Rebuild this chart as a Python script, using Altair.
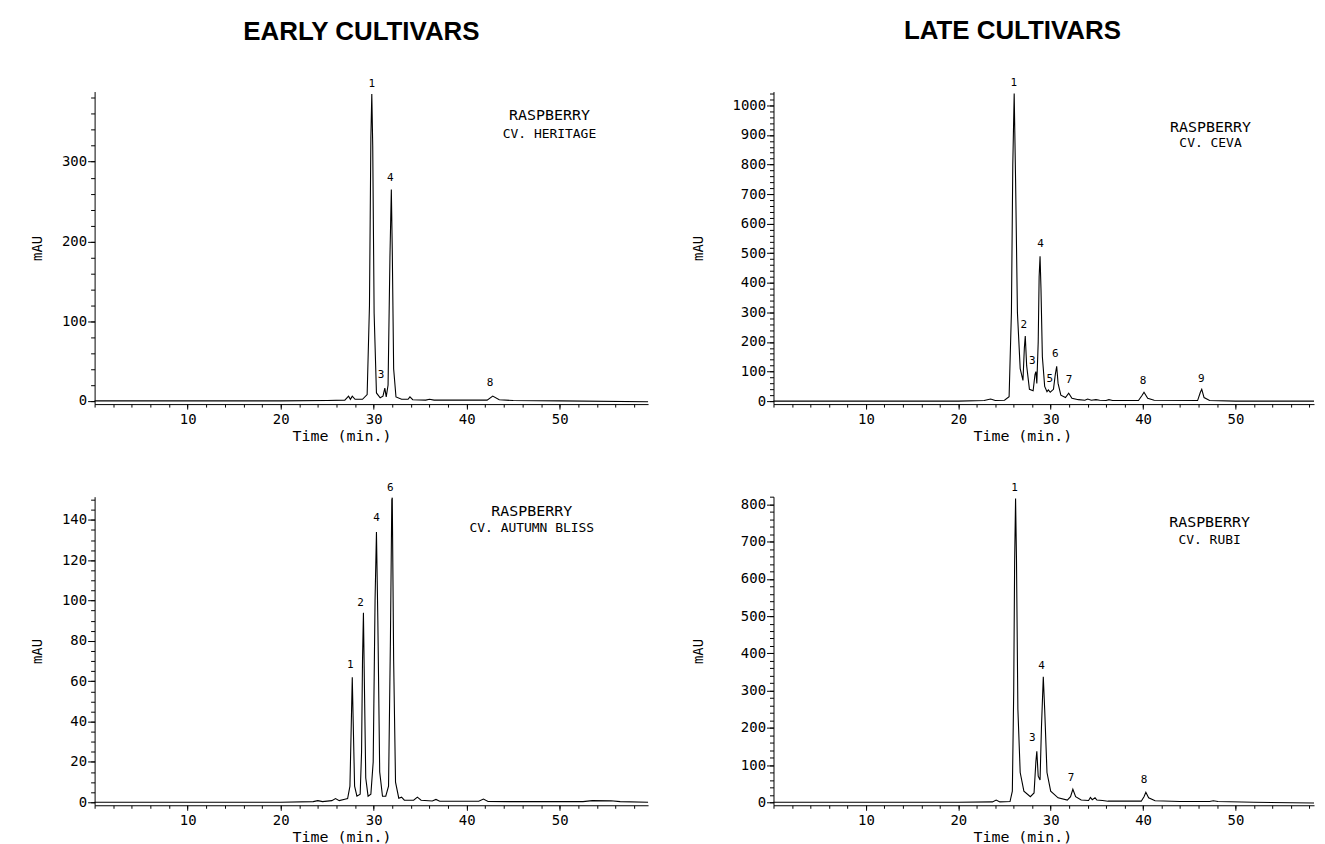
import altair as alt
import pandas as pd

MONO = "DejaVu Sans Mono"

# ---------------- EARLY: cv. Heritage ----------------
her_t = [0, 10, 20, 25, 26.9, 27.3, 27.5, 27.7, 28.0, 28.8, 29.3, 29.55, 29.7, 29.8, 29.9, 30.05, 30.3, 30.7,
         31.0, 31.2, 31.35, 31.55, 31.75, 31.9, 32.0, 32.15, 32.4, 33.0, 33.7, 33.9, 34.2, 35.6, 36.0, 36.5,
         42.2, 42.8, 43.5, 45, 50, 59.5]
her_v = [0, 0, 0, 0.5, 1, 6, 2, 6, 2, 2, 8, 120, 330, 385, 320, 110, 10, 4,
         6, 16, 5, 20, 180, 265, 190, 40, 5, 2, 2, 5, 1.5, 1, 2, 1,
         1, 6, 1.5, 0.5, 0, -1]
her_lab = ["1", "3", "4", "8"]
her_lab_t = [29.8, 30.8, 31.8, 42.5]
her_lab_v = [398, 33, 279, 22]

# ---------------- EARLY: cv. Autumn Bliss ----------------
bli_t = [0, 10, 20, 23.5, 24.0, 24.5, 25.5, 25.9, 26.3, 26.9, 27.2, 27.45, 27.6, 27.7, 27.8, 27.95, 28.2,
         28.55, 28.7, 28.8, 28.9, 29.0, 29.15, 29.4, 29.7, 29.95, 30.15, 30.3, 30.45, 30.65, 30.95, 31.3,
         31.6, 31.8, 31.95, 32.0, 32.15, 32.35, 32.7, 33.0, 33.3, 34.3, 34.7, 35.1, 36.3, 36.7, 37.1,
         41.3, 41.8, 42.3, 45, 52.5, 53.5, 55.5, 56.5, 59.5]
bli_v = [0, 0, 0, 0.3, 0.8, 0.3, 0.8, 1.8, 0.8, 1.5, 1.8, 8, 40, 62, 40, 8, 3,
         4, 25, 70, 94, 60, 12, 3, 4, 20, 100, 134, 90, 15, 3, 3,
         8, 80, 150, 151, 70, 10, 2, 2.5, 1, 1, 2.5, 1, 0.6, 1.4, 0.5,
         0.5, 1.6, 0.4, 0.3, 0.3, 0.8, 0.7, 0.3, 0]
bli_lab = ["1", "2", "4", "6"]
bli_lab_t = [27.5, 28.6, 30.3, 31.8]
bli_lab_v = [68, 99, 141, 156]

# ---------------- LATE: cv. Ceva ----------------
cev_t = [0, 10, 20, 22.8, 23.5, 24.0, 25.0, 25.5, 25.75, 25.9, 26.05, 26.2, 26.4, 26.7, 27.0, 27.15, 27.25,
         27.4, 27.7, 28.1, 28.3, 28.4, 28.5, 28.65, 28.75, 28.85, 28.95, 29.1, 29.35, 29.6, 29.75, 29.95,
         30.3, 30.5, 30.65, 30.8, 31.1, 31.6, 31.95, 32.3, 33.0, 33.7, 34.0, 34.4, 34.9, 35.3, 36.0, 36.3,
         36.7, 39.5, 39.9, 40.1, 40.5, 41.2, 45.9, 46.2, 46.35, 46.6, 47.2, 50, 58.5]
cev_v = [0, 0, 0, 2, 7, 2, 3, 15, 300, 800, 1040, 750, 300, 110, 70, 180, 220,
         120, 40, 35, 90, 100, 60, 200, 420, 490, 380, 150, 50, 32, 38, 30,
         40, 90, 118, 60, 20, 12, 27, 10, 5, 3, 7, 3, 5, 3, 2, 5,
         2, 2, 20, 30, 10, 3, 2, 30, 40, 12, 2, 0, 0]
cev_lab = ["1", "2", "3", "4", "5", "6", "7", "8", "9"]
cev_lab_t = [26.0, 27.1, 28.0, 28.9, 29.9, 30.5, 32.0, 40.0, 46.3]
cev_lab_v = [1075, 259, 137, 530, 75, 161, 70, 67, 75]

# ---------------- LATE: cv. Rubi ----------------
rub_t = [0, 10, 20, 23.7, 24.1, 24.5, 25.6, 25.85, 26.0, 26.1, 26.2, 26.3, 26.45, 26.7, 27.1, 27.8, 28.2,
         28.4, 28.5, 28.65, 28.85, 29.0, 29.2, 29.35, 29.6, 30.0, 30.8, 31.8, 32.15, 32.4, 32.7, 33.3,
         34.1, 34.3, 34.5, 34.8, 35.0, 35.6, 36.2, 39.8, 40.1, 40.3, 40.6, 41.3, 44, 47.2, 47.6, 48.1,
         52, 58.5]
rub_v = [0, 0, 0, 1, 6, 1, 2, 30, 300, 650, 816, 650, 250, 80, 30, 15, 25,
         110, 137, 70, 60, 200, 337, 250, 80, 30, 12, 6, 15, 35, 15, 6,
         5, 13, 7, 12, 6, 5, 3, 3, 15, 27, 12, 4, 2, 2, 4, 2,
         0, -2]
rub_lab = ["1", "3", "4", "7", "8"]
rub_lab_t = [26.1, 28.0, 29.0, 32.2, 40.1]
rub_lab_v = [843, 173, 365, 64, 60]

# sample annotations (text, time position, signal position of line 1, of line 2)
note_top = "RASPBERRY"
her_note = ["CV. HERITAGE", 48.9, 359, 335]
bli_note = ["CV. AUTUMN BLISS", 47.0, 144.5, 136]
cev_note = ["CV. CEVA", 47.3, 926, 872]
rub_note = ["CV. RUBI", 47.2, 752, 704]

X_MAJOR = [10, 20, 30, 40, 50]


def panel(t, v, xmax, ydom, major_y, minor_step, w, h, lab, lab_t, lab_v, note,
          mau_x, time_x, time_y, heading=None, head_x=0, head_y=0, anchor=False):
    df = pd.DataFrame({"t": t, "v": v})
    xs = alt.Scale(domain=[0, xmax], nice=False, zero=False)
    ys = alt.Scale(domain=ydom, nice=False, zero=False)
    minor_x = list(range(0, int(xmax) + 1, 2))
    minor_y = list(range(0, int(ydom[1]) + 1, minor_step))

    line = alt.Chart(df).mark_line(color="black", strokeWidth=1.1).encode(
        x=alt.X("t:Q", scale=xs, axis=alt.Axis(
            values=X_MAJOR, orient="bottom", format="d", title="Time (min.)", titleX=time_x, titleY=time_y,
            titleBaseline="middle", titleFont=MONO, titleFontSize=15, titleFontWeight="normal",
            titleColor="black", tickSize=5, labelPadding=3, labelFont=MONO, labelFontSize=14,
            labelColor="black", domainColor="black", tickColor="black", grid=False,
            labelFlush=False)),
        y=alt.Y("v:Q", scale=ys, axis=alt.Axis(
            values=major_y, orient="left", format="d", title="mAU", titleX=mau_x, titleY=h / 2,
            titleBaseline="middle", titleFont=MONO, titleFontSize=14, titleFontWeight="normal",
            titleColor="black", tickSize=7, labelPadding=1, labelFont=MONO, labelFontSize=14,
            labelColor="black", domainColor="black", tickColor="black", grid=False,
            labelFlush=False)),
    )
    minor = alt.Chart(df).mark_line(opacity=0).encode(
        x=alt.X("t:Q", scale=xs, axis=alt.Axis(
            values=minor_x, orient="bottom", labels=False, domain=False, tickSize=3,
            tickColor="black", grid=False, title=None)),
        y=alt.Y("v:Q", scale=ys, axis=alt.Axis(
            values=minor_y, orient="left", labels=False, domain=False, tickSize=4,
            tickColor="black", grid=False, title=None)),
    )
    labdf = pd.DataFrame({"t": lab_t, "v": lab_v, "s": lab})
    labels = alt.Chart(labdf).mark_text(font=MONO, fontSize=11, color="black", baseline="middle").encode(
        x=alt.X("t:Q", scale=xs, axis=None),
        y=alt.Y("v:Q", scale=ys, axis=None),
        text="s:N",
    )
    notedf = pd.DataFrame({"t": [note[1], note[1]], "v": [note[2], note[3]],
                           "s": [note_top, note[0]], "k": ["a", "b"]})
    note1 = alt.Chart(notedf).transform_filter("datum.k == 'a'").mark_text(
        font=MONO, fontSize=15, color="black", baseline="middle").encode(
        x=alt.X("t:Q", scale=xs, axis=None), y=alt.Y("v:Q", scale=ys, axis=None), text="s:N")
    note2 = alt.Chart(notedf).transform_filter("datum.k == 'b'").mark_text(
        font=MONO, fontSize=13, color="black", baseline="middle").encode(
        x=alt.X("t:Q", scale=xs, axis=None), y=alt.Y("v:Q", scale=ys, axis=None), text="s:N")
    layers = [line, minor, labels, note1, note2]
    one = pd.DataFrame({"a": [0]})
    if heading:
        layers.append(alt.Chart(one).mark_text(
            font="Liberation Sans", fontSize=26, fontWeight="bold", color="black",
            baseline="alphabetic", align="center").encode(
            x=alt.value(head_x), y=alt.value(head_y), text=alt.value(heading)))
    if anchor:
        layers.append(alt.Chart(one).mark_rule(opacity=0, strokeWidth=1).encode(
            x=alt.value(-87), x2=alt.value(-86), y=alt.value(-82), y2=alt.value(-81)))
    return alt.layer(*layers).resolve_axis(x="independent", y="independent").properties(width=w, height=h)


tl = panel(her_t, her_v, 59.5, [-4, 388], [0, 100, 200, 300], 20, 556, 314,
           her_lab, her_lab_t, her_lab_v, her_note, -57, 248, 32,
           heading="EARLY CULTIVARS", head_x=268, head_y=-52, anchor=True)
bl = panel(bli_t, bli_v, 59.5, [-1.5, 151.5], list(range(0, 141, 20)), 5, 556, 310,
           bli_lab, bli_lab_t, bli_lab_v, bli_note, -57, 248, 31)
tr = panel(cev_t, cev_v, 58.5, [-10, 1047], list(range(0, 1001, 100)), 20, 543, 314,
           cev_lab, cev_lab_t, cev_lab_v, cev_note, -75, 250, 32,
           heading="LATE CULTIVARS", head_x=240, head_y=-53)
br = panel(rub_t, rub_v, 58.5, [-8, 821], list(range(0, 801, 100)), 20, 543, 310,
           rub_lab, rub_lab_t, rub_lab_v, rub_note, -75, 250, 31)

chart = alt.concat(tl, tr, bl, br, columns=2, spacing={"row": 93, "column": 126},
                   bounds="flush").properties(
    padding=0, background="white"
).configure_view(stroke=None)

chart.save("out.html", embed_options={"renderer": "svg", "actions": False})
